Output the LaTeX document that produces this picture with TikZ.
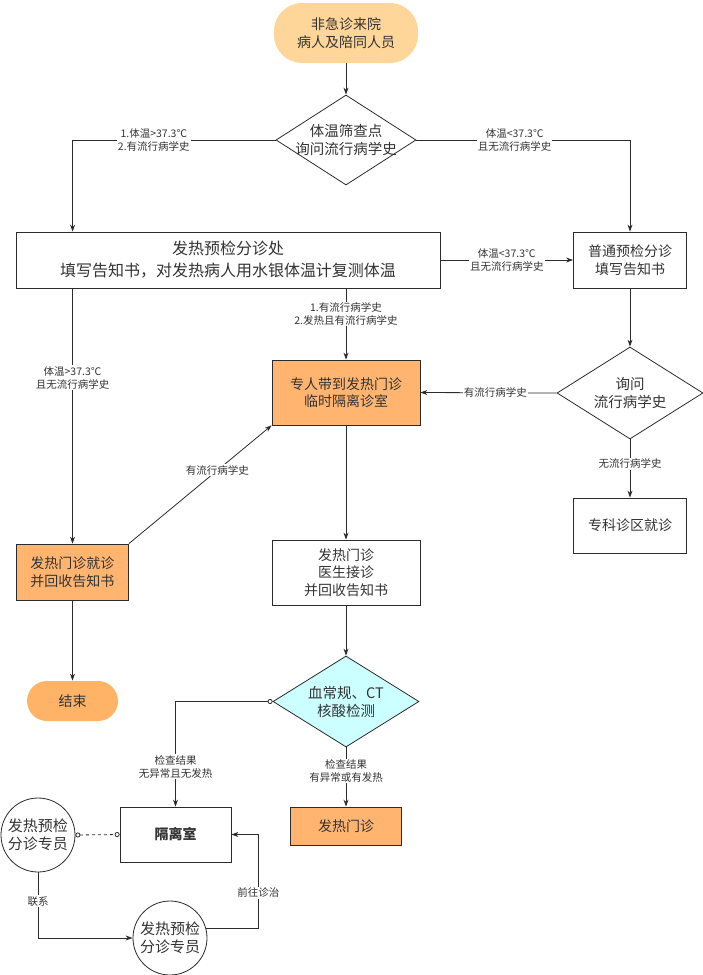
\documentclass[tikz,border=0pt]{standalone}
\usepackage{fontspec}
\setmainfont{Noto Sans CJK SC}
\usetikzlibrary{shapes.geometric,arrows.meta,calc}
\definecolor{peach}{HTML}{FFD699}
\definecolor{orng}{HTML}{FFB570}
\definecolor{orng2}{HTML}{FFB366}
\definecolor{cyanf}{HTML}{CCFFFF}
\definecolor{ln}{HTML}{2B2B2B}
\begin{document}
\begin{tikzpicture}[x=1pt,y={(0pt,-1pt)},
  line width=0.8pt,
  box/.style={draw=ln, rectangle, align=center, inner sep=0pt, font=\fontsize{14}{17.5}\selectfont, text=black!80},
  obox/.style={box, fill=orng},
  pill/.style={rectangle, rounded corners=20pt, align=center, inner sep=0pt, font=\fontsize{14}{18}\selectfont, text=black!80},
  dia/.style={draw=ln, diamond, inner sep=0pt},
  dtext/.style={align=center, font=\fontsize{14.5}{18}\selectfont, text=black!80},
  circ/.style={draw=ln, circle, minimum size=74pt, inner sep=0pt, align=center, font=\fontsize{15}{17.5}\selectfont, text=black!80, fill=white},
  arr/.style={draw=ln, -{Stealth[length=7pt,width=5pt]}},
  lbl/.style={fill=white, inner sep=1pt, align=center, font=\fontsize{10.5}{13}\selectfont, text=black!80}
]
\useasboundingbox (0,0) rectangle (703,975);

% nodes
\node[pill, fill=peach, minimum width=144pt, minimum height=60pt, rounded corners=28pt] (start) at (346,33) {非急诊来院\\病人及陪同人员};
\node[dia, minimum width=140pt, minimum height=90pt] (d1) at (346,140) {};
\node[dtext] (d1t) at (d1.center) {体温筛查点\\询问流行病学史};
\node[box, minimum width=424pt, minimum height=56pt, font=\fontsize{16}{22}\selectfont] (fever) at (228,260) {发热预检分诊处\\填写告知书，对发热病人用水银体温计复测体温};
\node[box, minimum width=113pt, minimum height=56pt] (normal) at (630,260) {普通预检分诊\\填写告知书};
\node[obox, minimum width=148pt, minimum height=65pt] (iso) at (346,392.5) {专人带到发热门诊\\临时隔离诊室};
\node[dia, minimum width=146pt, minimum height=92pt] (d2) at (630,393) {};
\node[dtext] (d2t) at (d2.center) {询问\\流行病学史};
\node[box, minimum width=113pt, minimum height=55pt] (spec) at (630,525.5) {专科诊区就诊};
\node[obox, minimum width=112pt, minimum height=56pt] (fclin) at (72.5,572) {发热门诊就诊\\并回收告知书};
\node[box, minimum width=148pt, minimum height=65pt] (doc) at (346,572.5) {发热门诊\\医生接诊\\并回收告知书};
\node[pill, fill=orng2, minimum width=91pt, minimum height=40pt] (end) at (72.5,701) {结束};
\node[dia, fill=cyanf, minimum width=146pt, minimum height=91pt] (d3) at (346,701.5) {};
\node[dtext] (d3t) at (d3.center) {血常规、CT\\核酸检测};
\node[box, minimum width=111pt, minimum height=55pt, font=\fontsize{14}{17.5}\bfseries] (room) at (175.5,834.5) {隔离室};
\node[obox, minimum width=111pt, minimum height=38pt] (fev2) at (346,826) {发热门诊};
\node[circ] (c1) at (38,835) {发热预检\\分诊专员};
\node[circ] (c2) at (170,938) {发热预检\\分诊专员};

% connectors
\draw[arr] (start) -- (d1);
\draw[arr] (d1.west) -| node[lbl, pos=0.3]{1.体温>37.3℃\\2.有流行病学史} ([xshift=57pt]fever.north west);
\draw[arr] (d1.east) -| node[lbl, pos=0.23]{体温<37.3℃\\且无流行病学史} (normal.north);
\draw[arr] (fever.east) -- node[lbl]{体温<37.3℃\\且无流行病学史} (normal.west);
\draw[arr] (fever.south -| iso.north) -- node[lbl, pos=0.36]{1.有流行病学史\\2.发热且有流行病学史} (iso.north);
\draw[arr] (normal.south) -- (d2.north);
\draw[arr] (d2.west) -- node[lbl, pos=0.45]{有流行病学史} (iso.east);
\draw[arr] (d2.south) -- node[lbl, pos=0.42]{无流行病学史} (spec.north);
\draw[arr] (fever.south -| fclin.north) -- node[lbl, pos=0.35]{体温>37.3℃\\且无流行病学史} (fclin.north);
\draw[arr] (fclin.north east) -- node[lbl, pos=0.62]{有流行病学史} (iso.south west);
\draw[arr] (iso.south) -- (doc.north);
\draw[arr] (fclin.south) -- (end.north);
\draw[arr] (doc.south) -- (d3.north);
\draw[draw=ln, {Circle[open,length=5pt]}-{Stealth[length=7pt,width=5pt]}] (d3.west) -| node[lbl, pos=0.81]{检查结果\\无异常且无发热} (room.north);
\draw[arr] (d3.south) -- node[lbl, pos=0.4]{检查结果\\有异常或有发热} (fev2.north);
\draw[draw=ln, dashed, {Circle[open,length=5pt]}-{Circle[open,length=5pt]}] (c1.east) -- (room.west);
\draw[arr] (c1.south) |- node[lbl, pos=0.22]{联系} (c2.west);
\draw[arr] (c2.15) -| ([xshift=27pt]room.east) node[lbl, pos=0.69]{前往诊治} -- (room.east);
\end{tikzpicture}
\end{document}
